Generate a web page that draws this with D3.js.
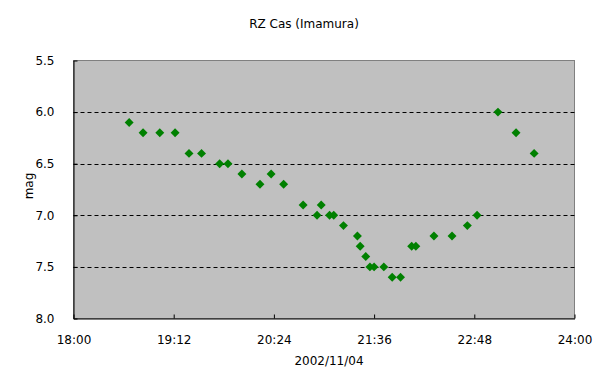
<!DOCTYPE html>
<html><head><meta charset="utf-8">
<script src="https://cdn.jsdelivr.net/npm/d3@7"></script>
<style>body{margin:0;background:#fff}svg{display:block}text{font-family:"DejaVu Sans","Liberation Sans",sans-serif;font-size:12px;fill:#000}</style>
</head><body><svg id="c" width="607" height="383"></svg>
<script>
const times = ["18:40","18:50","19:02","19:13","19:23","19:32","19:45","19:51","20:01","20:14","20:22","20:31","20:45","20:55","20:58","21:04","21:07","21:14","21:24","21:26","21:30","21:33","21:36","21:43","21:49","21:55","22:03","22:06","22:19","22:32","22:43","22:50","23:05","23:18","23:31"];
const mags = [6.1,6.2,6.2,6.2,6.4,6.4,6.5,6.5,6.6,6.7,6.6,6.7,6.9,7.0,6.9,7.0,7.0,7.1,7.2,7.3,7.4,7.5,7.5,7.5,7.6,7.6,7.3,7.3,7.2,7.2,7.1,7.0,6.0,6.2,6.4];
const xTickLabels = ["18:00","19:12","20:24","21:36","22:48","24:00"];
const yTicks = [5.5,6.0,6.5,7.0,7.5,8.0];
const gridVals = [6.0,6.5,7.0,7.5];
const title = "RZ Cas (Imamura)", xTitle = "2002/11/04", yTitle = "mag";

const toMin = s => { const [h,m] = s.split(":").map(Number); return h*60+m; };
const data = times.map((t,i)=>({x:toMin(t), y:mags[i]}));
const xTicks = xTickLabels.map(toMin);

const L=73.5, R=574.5, T=60.5, B=318.5;
const svg = d3.select("#c");
const x = d3.scaleLinear().domain([1080,1440]).range([L,R]);
const y = d3.scaleLinear().domain([5.5,8.0]).range([T,B]);

svg.append("rect").attr("x",L).attr("y",T).attr("width",R-L).attr("height",B-T)
  .attr("fill","#C0C0C0").attr("stroke","#808080").attr("stroke-width",1);

svg.append("g").selectAll("line").data(gridVals).join("line")
  .attr("x1",L).attr("x2",R).attr("y1",d=>Math.round(y(d))+0.5).attr("y2",d=>Math.round(y(d))+0.5)
  .attr("stroke","#000").attr("stroke-dasharray","4,3");

const yAxis = d3.axisLeft(y).tickValues(yTicks).tickFormat(d3.format(".1f")).tickSizeInner(-4).tickSizeOuter(0).tickPadding(19);
const gy = svg.append("g").attr("transform",`translate(${L},0)`).call(yAxis);
gy.select(".domain").attr("stroke","#000");
gy.selectAll("text").style("font-size","12px").style("font-family","DejaVu Sans");

const xAxis = d3.axisBottom(x).tickValues(xTicks).tickFormat((d,i)=>xTickLabels[i]).tickSizeInner(-4).tickSizeOuter(0).tickPadding(17);
const gx = svg.append("g").attr("transform",`translate(0,${B})`).call(xAxis);
gx.select(".domain").attr("stroke","#000");
gx.selectAll("text").style("font-size","12px").style("font-family","DejaVu Sans");

svg.append("g").selectAll("path").data(data).join("path")
  .attr("d", d3.symbol().type(d3.symbolSquare).size(40))
  .attr("transform", d=>`translate(${x(d.x)},${y(d.y)}) rotate(45)`)
  .attr("fill","#008000");

svg.append("text").attr("x",304).attr("y",28).attr("text-anchor","middle").text(title);
svg.append("text").attr("x",329).attr("y",365).attr("text-anchor","middle").text(xTitle);
svg.append("text").attr("transform","translate(33,186) rotate(-90)").attr("text-anchor","middle").text(yTitle);
</script></body></html>
